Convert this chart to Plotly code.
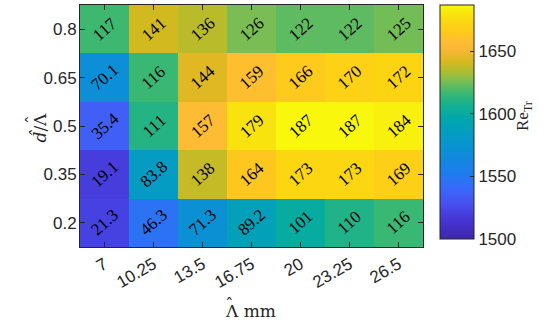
import plotly.graph_objects as go

# Grid of the sweep
lambda_mm = ["7", "10.25", "13.5", "16.75", "20", "23.25", "26.5"]
d_ratio = ["0.2", "0.35", "0.5", "0.65", "0.8"]

# Increase of the transition Reynolds number above the base value, one row per d/Lambda
base_re = 1500
delta_re = [
    [21.3, 46.3, 71.3, 89.2, 101, 110, 116],   # 0.2
    [19.1, 83.8, 138, 164, 173, 173, 169],     # 0.35
    [35.4, 111, 157, 179, 187, 187, 184],      # 0.5
    [70.1, 116, 144, 159, 166, 170, 172],      # 0.65
    [117, 141, 136, 126, 122, 122, 125],       # 0.8
]
cbar_ticks = [1500, 1550, 1600, 1650]

re_tr = [[base_re + v for v in row] for row in delta_re]

# Parula-like colour map
parula = [
    (0.00, (62, 38, 168)),
    (0.08, (70, 52, 212)),
    (0.16, (71, 84, 242)),
    (0.22, (55, 106, 250)),
    (0.28, (30, 124, 238)),
    (0.34, (18, 136, 222)),
    (0.40, (8, 148, 208)),
    (0.46, (3, 158, 192)),
    (0.52, (0, 168, 168)),
    (0.58, (25, 178, 140)),
    (0.63, (65, 185, 110)),
    (0.68, (130, 190, 80)),
    (0.72, (180, 188, 45)),
    (0.76, (215, 185, 30)),
    (0.80, (245, 182, 50)),
    (0.84, (254, 188, 52)),
    (0.88, (254, 200, 30)),
    (0.92, (252, 212, 18)),
    (0.96, (248, 228, 14)),
    (1.00, (249, 248, 12)),
]
colorscale = [[f, "rgb(%d,%d,%d)" % c] for f, c in parula]

ink = "#262626"
sans = "Liberation Sans, Arial, sans-serif"
serif = "Liberation Serif, Times New Roman, serif"
title_serif = "DejaVu Serif, serif"

W, H = 546, 323
L, R, T, B = 80, 123, 5, 76
pw, ph = W - L - R, H - T - B


def px(x):
    return (x - L) / pw


def py(y):
    return (H - B - y) / ph


nx, ny = len(lambda_mm), len(d_ratio)

fig = go.Figure(
    go.Heatmap(
        z=re_tr,
        x=list(range(nx)),
        y=list(range(ny)),
        colorscale=colorscale,
        zmin=1500,
        zmax=1687,
        showscale=True,
        colorbar=dict(
            x=px(440),
            xanchor="left",
            xpad=0,
            y=1,
            yanchor="top",
            ypad=0,
            lenmode="pixels",
            len=234,
            thickness=34,
            outlinewidth=1,
            outlinecolor=ink,
            tickvals=cbar_ticks,
            tickprefix="\u00a0",
            ticks="inside",
            ticklen=4,
            tickcolor=ink,
            tickfont=dict(family=sans, size=17, color=ink),
        ),
        hoverinfo="skip",
    )
)

# Cell labels
for j, row in enumerate(delta_re):
    for i, v in enumerate(row):
        fig.add_annotation(
            x=i, y=j, xref="x", yref="y",
            text=f"{v:.3g}",
            showarrow=False,
            textangle=-42,
            font=dict(family=serif, size=17, color="black"),
        )

title_font = dict(family=title_serif, size=17, color=ink)


def label(x, y, text, angle=0, font=title_font, **kw):
    fig.add_annotation(
        xref="paper", yref="paper", x=px(x), y=py(y),
        text=text, showarrow=False, textangle=angle, font=font, **kw
    )


# Colour bar label
label(537, 116, "Re<sub>Tr</sub>", angle=-90,
      font=dict(family=serif, size=17, color=ink))

# x-axis title: Lambda-hat mm
label(223, 311, "Λ mm", xanchor="left", yanchor="middle")
label(229.5, 304, "ˆ", yanchor="middle")

# y-axis title: d-hat / Lambda-hat (reads bottom to top)
label(27, 128, "<i>d\u0302</i>/Λ", angle=-90, yanchor="middle")
label(20, 120, "ˆ", angle=-90, yanchor="middle")

axis_common = dict(
    showline=True, linecolor=ink, linewidth=1, mirror="ticks",
    ticks="inside", ticklen=5, tickcolor=ink, tickwidth=1,
    showgrid=False, zeroline=False,
    tickfont=dict(family=sans, size=17, color=ink),
)

fig.update_xaxes(
    range=[-0.5, nx - 0.5],
    tickvals=list(range(nx)), ticktext=lambda_mm,
    tickangle=-30,
    **axis_common,
)
fig.update_yaxes(
    range=[-0.5, ny - 0.5],
    tickvals=list(range(ny)), ticktext=d_ratio,
    ticklabelstandoff=-1,
    **axis_common,
)

fig.update_layout(
    width=W, height=H,
    margin=dict(l=L, r=R, t=T, b=B),
    paper_bgcolor="white", plot_bgcolor="white",
    showlegend=False,
)

fig.write_html("out.html")
